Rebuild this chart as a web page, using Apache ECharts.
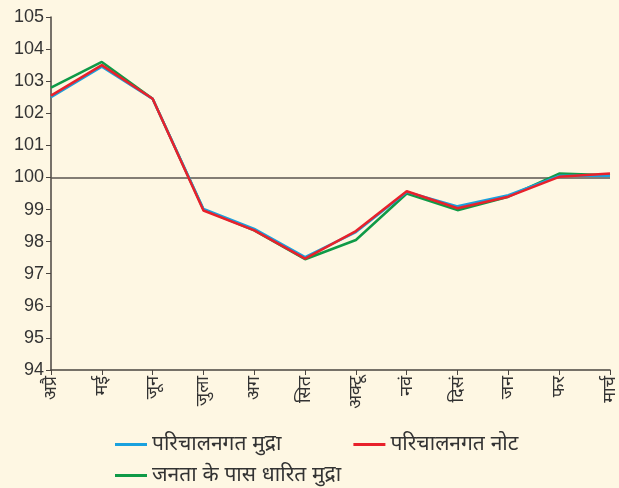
<!DOCTYPE html>
<html><head><meta charset="utf-8">
<script src="https://cdn.jsdelivr.net/npm/echarts@6/dist/echarts.min.js"></script>
<style>html,body{margin:0;padding:0;background:#fef7e3;}#c{width:619px;height:488px;}</style>
</head><body><div id="c"></div>
<script>
const categories = ['अप्रै','मई','जून','जुला','अग','सित','अक्टू','नवं','दिसं','जन','फर','मार्च'];
const seriesNames = ['परिचालनगत मुद्रा','परिचालनगत नोट','जनता के पास धारित मुद्रा'];
const currencyInCirculation = [102.5, 103.45, 102.45, 99.02, 98.4, 97.52, 98.3, 99.55, 99.1, 99.45, 100.05, 100.05];
const notesInCirculation = [102.55, 103.5, 102.45, 98.97, 98.35, 97.47, 98.33, 99.57, 99.04, 99.4, 100.02, 100.12];
const currencyWithPublic = [102.8, 103.6, 102.45, 99.0, 98.35, 97.45, 98.05, 99.5, 98.98, 99.4, 100.12, 100.07];
const baseLine = 100;

const font = '"Liberation Sans","Noto Sans",sans-serif';
const chart = echarts.init(document.getElementById('c'));
function mk(name, data, color, z) {
  return {name, type:'line', data, symbol:'none', z, lineStyle:{color, width:2.5}, itemStyle:{color}};
}
const s = [
  mk(seriesNames[2], currencyWithPublic, '#0f9a47', 3),
  mk(seriesNames[0], currencyInCirculation, '#1aa1de', 4),
  mk(seriesNames[1], notesInCirculation, '#e8212b', 5)
];
s[0].markLine = {silent:true, symbol:'none', label:{show:false}, lineStyle:{color:'#5a554f', width:1.5, type:'solid'}, data:[{yAxis:baseLine}], z:2};
chart.setOption({
  backgroundColor:'#fef7e3',
  animation:false,
  grid:{left:51, right:8, top:17, bottom:118},
  legend:[
    {left:110, top:429, itemWidth:32, itemHeight:3, itemGap:72, icon:'rect', textStyle:{fontSize:21, color:'#333', fontFamily:font}, data:[seriesNames[0], seriesNames[1]]},
    {left:110, top:460, itemWidth:32, itemHeight:3, icon:'rect', textStyle:{fontSize:21, color:'#333', fontFamily:font}, data:[seriesNames[2]]}
  ],
  xAxis:{type:'category', data:categories, boundaryGap:false,
    axisLine:{lineStyle:{color:'#4a4540', width:1.5}},
    axisTick:{alignWithLabel:true, length:5, lineStyle:{color:'#4a4540'}},
    axisLabel:{rotate:90, fontSize:18, color:'#333', margin:6, fontFamily:font, interval:0}},
  yAxis:{type:'value', min:94, max:105, interval:1,
    axisLine:{show:true, lineStyle:{color:'#4a4540', width:1.5}},
    axisTick:{show:true, length:5, lineStyle:{color:'#4a4540'}},
    splitLine:{show:false},
    axisLabel:{fontSize:18, color:'#333', margin:7, fontFamily:font}},
  series:s
});
</script></body></html>
